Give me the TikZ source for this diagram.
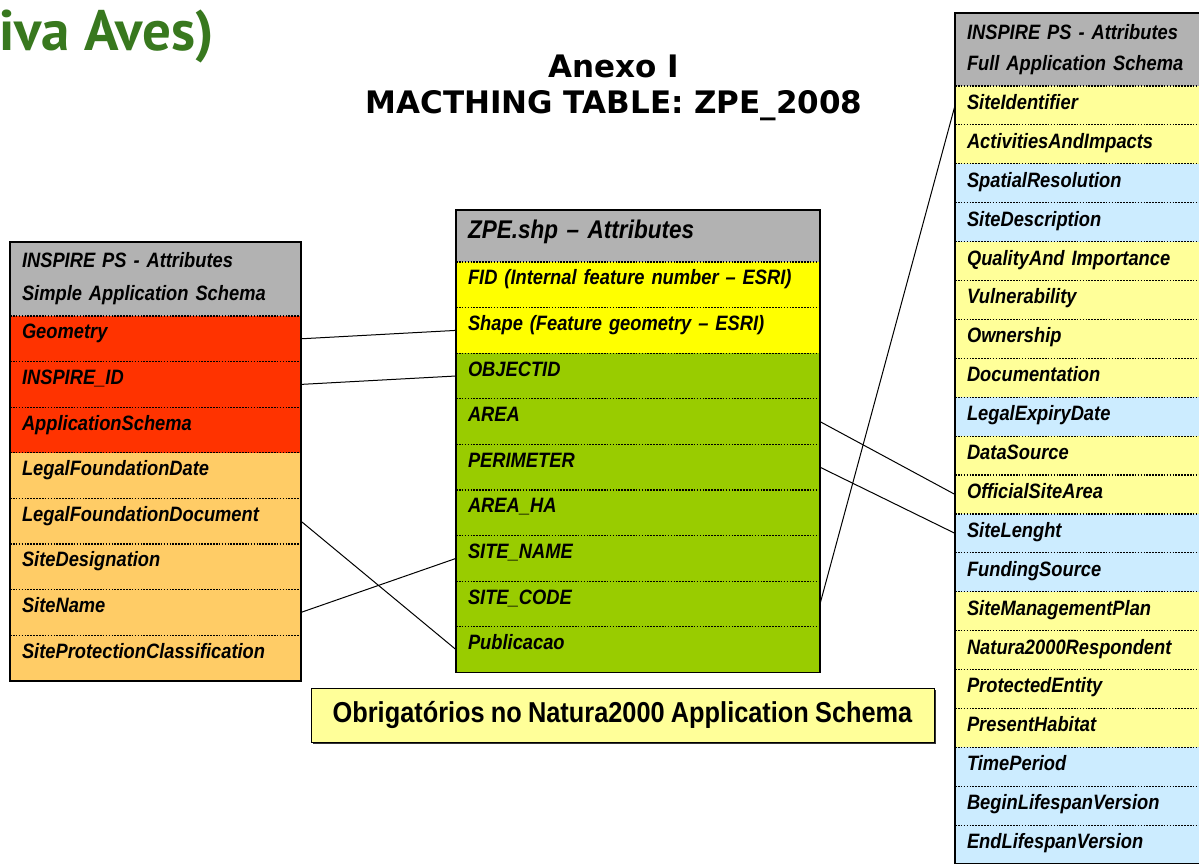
\documentclass[tikz,border=0pt]{standalone}
\usepackage{fontspec}
\setmainfont{Liberation Sans}
\newfontfamily\narrowfont[FakeStretch=0.88, WordSpace=0.88, Ligatures=TeX]{Liberation Sans}
\newfontfamily\titlefont{DejaVu Sans}
\newfontfamily\avesfont{PT Sans}
\usetikzlibrary{positioning, shadows}
\definecolor{hdrgray}{RGB}{178,178,178}
\definecolor{mandred}{RGB}{255,51,0}
\definecolor{simpleorange}{RGB}{255,204,102}
\definecolor{esriyellow}{RGB}{255,255,0}
\definecolor{shpgreen}{RGB}{153,204,0}
\definecolor{fullyellow}{RGB}{255,255,153}
\definecolor{fullblue}{RGB}{204,236,255}
\definecolor{avesgreen}{RGB}{56,120,30}
\newcommand{\rowfont}{\narrowfont\bfseries\itshape\fontsize{20.8}{22}\selectfont}

\begin{document}
\begin{tikzpicture}[
    x=1pt, y=-1pt,
    node distance=0pt,
    every node/.style={inner sep=0pt, outer sep=0pt},
    sepline/.style={line width=1.2pt, dash pattern=on 1.6pt off 1.3pt},
    row/.style={rectangle, inner xsep=12pt, align=left, font=\rowfont,
        append after command={(\tikzlastnode.north west) edge[sepline] (\tikzlastnode.north east)}},
    lrow/.style={row, text width=267pt, minimum height=45.6pt, text height=12pt, text depth=12pt, fill=#1},
    mrow/.style={row, text width=340pt, minimum height=45.6pt, text height=12pt, text depth=12pt, fill=#1},
    rrow/.style={row, text width=231pt, minimum height=38.9pt, text height=13pt, text depth=5pt, fill=#1},
    hdr/.style={rectangle, fill=hdrgray, inner xsep=12pt, align=left},
    frame/.style={line width=1.5pt},
    link/.style={line width=1pt}
]
\useasboundingbox (0,0) rectangle (1199,864);
\clip (0,0) rectangle (1199,864);
\fill[white] (0,0) rectangle (1199,864);

% Titles
\node (aves) [anchor=base west, text=avesgreen, font=\avesfont\bfseries\fontsize{57}{62}\selectfont] at (-1,51) {iva Aves)};
\node (anexo) [anchor=base, font=\titlefont\bfseries\fontsize{31}{36}\selectfont] at (614,78) {Anexo I};
\node (matching) [anchor=base, font=\titlefont\bfseries\fontsize{31}{36}\selectfont] at (614,114) {MACTHING TABLE: ZPE\_2008};

% Simple application schema
\node (lhead) [hdr, anchor=north west, text width=267pt, minimum height=74pt, font=\narrowfont\bfseries\itshape\fontsize{20.8}{33}\selectfont] at (10,242) {INSPIRE PS - Attributes\\Simple Application Schema};
\node (lGeometry) [lrow=mandred, below=of lhead] {Geometry};
\node (lInspireId) [lrow=mandred, below=of lGeometry] {INSPIRE\_ID};
\node (lAppSchema) [lrow=mandred, below=of lInspireId] {ApplicationSchema};
\node (lFoundDate) [lrow=simpleorange, below=of lAppSchema] {LegalFoundationDate};
\node (lFoundDoc) [lrow=simpleorange, below=of lFoundDate] {LegalFoundationDocument};
\node (lDesignation) [lrow=simpleorange, below=of lFoundDoc] {SiteDesignation};
\node (lSiteName) [lrow=simpleorange, below=of lDesignation] {SiteName};
\node (lProtClass) [lrow=simpleorange, below=of lSiteName] {SiteProtectionClassification};
\draw[frame] (lhead.north west) rectangle (lProtClass.south east);

% ZPE shapefile
\node (mhead) [hdr, anchor=north west, text width=340pt, minimum height=52pt, text height=17pt, text depth=13pt, font=\narrowfont\bfseries\itshape\fontsize{25.6}{28}\selectfont] at (456,210) {ZPE.shp – Attributes};
\node (mFID) [mrow=esriyellow, below=of mhead] {FID (Internal feature number – ESRI)};
\node (mShape) [mrow=esriyellow, below=of mFID] {Shape (Feature geometry – ESRI)};
\node (mObjectId) [mrow=shpgreen, below=of mShape] {OBJECTID};
\node (mArea) [mrow=shpgreen, below=of mObjectId] {AREA};
\node (mPerimeter) [mrow=shpgreen, below=of mArea] {PERIMETER};
\node (mAreaHa) [mrow=shpgreen, below=of mPerimeter] {AREA\_HA};
\node (mSiteName) [mrow=shpgreen, below=of mAreaHa] {SITE\_NAME};
\node (mSiteCode) [mrow=shpgreen, below=of mSiteName] {SITE\_CODE};
\node (mPublicacao) [mrow=shpgreen, below=of mSiteCode] {Publicacao};
\draw[frame] (mhead.north west) rectangle (mPublicacao.south east);

% Full application schema
\node (rhead) [hdr, anchor=north west, text width=231pt, minimum height=73pt, font=\narrowfont\bfseries\itshape\fontsize{20.8}{31}\selectfont] at (955,13) {INSPIRE PS - Attributes\\Full Application Schema};
\node (rSiteId) [rrow=fullyellow, below=of rhead] {SiteIdentifier};
\node (rActivities) [rrow=fullyellow, below=of rSiteId] {ActivitiesAndImpacts};
\node (rSpatialRes) [rrow=fullblue, below=of rActivities] {SpatialResolution};
\node (rSiteDesc) [rrow=fullblue, below=of rSpatialRes] {SiteDescription};
\node (rQuality) [rrow=fullyellow, below=of rSiteDesc] {QualityAnd Importance};
\node (rVulnerability) [rrow=fullyellow, below=of rQuality] {Vulnerability};
\node (rOwnership) [rrow=fullyellow, below=of rVulnerability] {Ownership};
\node (rDocumentation) [rrow=fullyellow, below=of rOwnership] {Documentation};
\node (rExpiryDate) [rrow=fullblue, below=of rDocumentation] {LegalExpiryDate};
\node (rDataSource) [rrow=fullyellow, below=of rExpiryDate] {DataSource};
\node (rOfficialArea) [rrow=fullyellow, below=of rDataSource] {OfficialSiteArea};
\node (rSiteLength) [rrow=fullblue, below=of rOfficialArea] {SiteLenght};
\node (rFunding) [rrow=fullblue, below=of rSiteLength] {FundingSource};
\node (rMgmtPlan) [rrow=fullyellow, below=of rFunding] {SiteManagementPlan};
\node (rRespondent) [rrow=fullyellow, below=of rMgmtPlan] {Natura2000Respondent};
\node (rProtEntity) [rrow=fullyellow, below=of rRespondent] {ProtectedEntity};
\node (rHabitat) [rrow=fullyellow, below=of rProtEntity] {PresentHabitat};
\node (rTimePeriod) [rrow=fullblue, below=of rHabitat] {TimePeriod};
\node (rBeginLife) [rrow=fullblue, below=of rTimePeriod] {BeginLifespanVersion};
\node (rEndLife) [rrow=fullblue, below=of rBeginLife] {EndLifespanVersion};
\draw[frame] (rhead.north west) rectangle (rEndLife.south east);

% Note
\node (obrig) [rectangle, draw, line width=1pt, fill=fullyellow, minimum width=623pt, minimum height=54pt,
    drop shadow={shadow xshift=2pt, shadow yshift=-2pt, fill=black!80, opacity=1},
    font=\narrowfont\bfseries\fontsize{28.8}{32}\selectfont] at (622.5,715) {Obrigatórios no Natura2000 Application Schema};

% Matching lines
\draw[link] (lGeometry.east) -- (mShape.west);
\draw[link] (lInspireId.east) -- (mObjectId.west);
\draw[link] (lFoundDoc.east) -- (mPublicacao.west);
\draw[link] (lSiteName.east) -- (mSiteName.west);
\draw[link] (mArea.east) -- (rOfficialArea.west);
\draw[link] (mPerimeter.east) -- (rSiteLength.west);
\draw[link] (mSiteCode.east) -- (rSiteId.west);
\end{tikzpicture}
\end{document}
